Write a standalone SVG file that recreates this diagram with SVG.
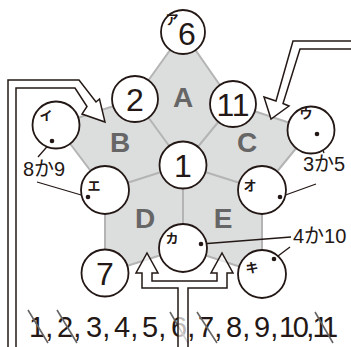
<svg xmlns="http://www.w3.org/2000/svg" width="351" height="347" viewBox="0 0 351 347">
<style>
.bg{fill:#ffffff}
.reg{fill:#dcdddd;stroke:#b4b4b4;stroke-width:2;stroke-linejoin:round}
.edge{stroke:#b4b4b4;stroke-width:2;fill:none}
.c{fill:#ffffff;stroke:#231815;stroke-width:1.8}
.num{font-family:"Liberation Sans",Arial,sans-serif;font-size:32px;fill:#231815;text-anchor:middle}
.kana{font-family:"Noto Sans CJK JP",sans-serif;font-size:13px;font-weight:bold;fill:#231815;text-anchor:middle}
.big{font-family:"Liberation Sans",Arial,sans-serif;font-size:28px;font-weight:bold;fill:#666666;text-anchor:middle}
.lab{font-family:"Liberation Sans","Noto Sans CJK JP",sans-serif;font-size:20px;fill:#231815}
.row{font-family:"Liberation Sans",Arial,sans-serif;font-size:29px;fill:#231815}
.arrow{fill:#ffffff;stroke:#231815;stroke-width:1.5;stroke-linejoin:miter}
.lead{stroke:#231815;stroke-width:1.3;fill:none}
.dot{fill:#231815}
.slash{stroke:#666666;stroke-width:1.6}
</style>
<rect class="bg" x="0" y="0" width="351" height="347"/>
<g id="regions">
<polygon class="reg" points="183,32 233,104 311,130 262,190 262,274 183,248 105,273 105,190 56,125 135,99"/>
<path class="edge" d="M183,165 L135,99 M183,165 L233,104 M183,165 L105,190 M183,165 L262,190 M183,165 L183,248"/>
<text class="big" x="183" y="107">A</text>
<text class="big" x="120" y="152">B</text>
<text class="big" x="247" y="152">C</text>
<text class="big" x="145" y="228">D</text>
<text class="big" x="223" y="228">E</text>
</g>
<g id="numbers">
<text class="row" x="29" y="337">1,</text>
<text class="row" x="57" y="337">2,</text>
<text class="row" x="86" y="337">3,</text>
<text class="row" x="114" y="337">4,</text>
<text class="row" x="142" y="337">5,</text>
<text class="row" x="171" y="337">6,</text>
<text class="row" x="198" y="337">7,</text>
<text class="row" x="226" y="337">8,</text>
<text class="row" x="254" y="337">9,</text>
<text class="row" x="279" y="337" letter-spacing="-2.5">10,</text>
<text class="row" x="312.5" y="337" letter-spacing="-4.5">11</text>
<path class="slash" d="M28,310 L48,343 M57,310 L77,343 M170,312 L188,343 M197,312 L217,343 M315,312 L333,343"/>
</g>
<g id="connectors">
<path class="arrow" d="M8,352 V80 H79 L96,102 L99.5,99 L105,122 L82,114 L87,106.5 L75,88 H16 V352 Z"/>
<path class="arrow" d="M356,41 H293 L276,101 L264,97 L271,119 L289,106 L283,103.5 L300,49 H356 Z"/>
<path class="arrow" fill-opacity="0.7" d="M178,352 V288 H142 V273 H136 L147,253 L158,273 H152 V281 H217 V273 H211 L222,253 L233,273 H227 V288 H188 V352 Z"/>
<path class="lead" d="M52,141 L38,157 M88,197 L37,182 M317,134 L324,153 M280,197 L316,184 M201,244 L291,237 M274,259 L290,247"/>
</g>
<g id="node-a">
<circle class="c" cx="183" cy="32" r="22"/>
<text class="num" x="187" y="45">6</text>
<text class="kana" x="172" y="24" font-size="12px">ア</text>
</g>
<g id="node-2">
<circle class="c" cx="135" cy="99" r="23"/>
<text class="num" x="135" y="110.5">2</text>
</g>
<g id="node-11">
<circle class="c" cx="233" cy="104" r="23"/>
<text class="num" x="233" y="115.5">11</text>
</g>
<g id="node-i">
<circle class="c" cx="56" cy="125" r="23.5"/>
<text class="kana" x="46" y="120">イ</text>
<circle class="dot" cx="52" cy="141" r="2.3"/>
</g>
<g id="node-u">
<circle class="c" cx="311" cy="130" r="23.5"/>
<text class="kana" x="306" y="118">ウ</text>
<circle class="dot" cx="317" cy="134" r="2.3"/>
</g>
<g id="node-1">
<circle class="c" cx="183" cy="165" r="23.5"/>
<text class="num" x="183" y="176.5">1</text>
</g>
<g id="node-e">
<circle class="c" cx="105" cy="190" r="24"/>
<text class="kana" x="94" y="190">エ</text>
<circle class="dot" cx="88" cy="197" r="2.3"/>
</g>
<g id="node-o">
<circle class="c" cx="262" cy="190" r="24"/>
<text class="kana" x="250" y="190">オ</text>
<circle class="dot" cx="280" cy="197" r="2.3"/>
</g>
<g id="node-ka">
<circle class="c" cx="183" cy="248" r="24"/>
<text class="kana" x="172" y="243">カ</text>
<circle class="dot" cx="201" cy="244" r="2.3"/>
</g>
<g id="node-7">
<circle class="c" cx="105" cy="273" r="23.5"/>
<text class="num" x="105" y="284.5">7</text>
</g>
<g id="node-ki">
<circle class="c" cx="262" cy="274" r="24"/>
<text class="kana" x="252" y="272">キ</text>
<circle class="dot" cx="274" cy="259" r="2.3"/>
</g>
<g id="labels">
<text class="lab" x="23" y="176">8か9</text>
<text class="lab" x="303" y="171">3か5</text>
<text class="lab" x="293" y="243">4か10</text>
</g>
</svg>
